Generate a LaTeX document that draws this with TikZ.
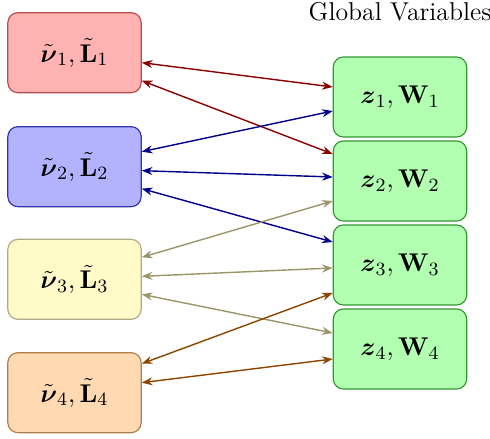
\documentclass[tikz,border=0pt]{standalone}
\usepackage{tikz}
\usepackage{amsmath}
\usepackage{amssymb}
\usepackage{xcolor}
\usetikzlibrary{arrows.meta,positioning}
\definecolor{darkred}{RGB}{140,0,0}
\definecolor{darkblue}{RGB}{0,0,140}
\definecolor{olivegray}{RGB}{155,150,105}
\definecolor{rust}{RGB}{140,70,0}
\definecolor{paleyellow}{RGB}{255,250,200}

\begin{document}
\begin{tikzpicture}[font=\fontsize{11}{13}\selectfont,
  box/.style={rounded corners=1.5mm, minimum width=2cm, minimum height=1.2cm, line width=0.5pt},
  link/.style={{Stealth[length=1.6mm]}-{Stealth[length=1.6mm]}, line width=0.6pt}]
\useasboundingbox (0,0) rectangle (7.35,6.57);
\node[box, draw=red!60!black!70, fill=red!30] (l1) at (1.1175,5.78) {$\tilde{\boldsymbol{\nu}}_1, \tilde{\mathbf{L}}_1$};
\node[box, draw=blue!60!black!80, fill=blue!30] (l2) at (1.1175,4.07) {$\tilde{\boldsymbol{\nu}}_2, \tilde{\mathbf{L}}_2$};
\node[box, draw=olivegray!80, fill=paleyellow] (l3) at (1.1175,2.38) {$\tilde{\boldsymbol{\nu}}_3, \tilde{\mathbf{L}}_3$};
\node[box, draw=rust!70, fill=orange!30] (l4) at (1.1175,0.68) {$\tilde{\boldsymbol{\nu}}_4, \tilde{\mathbf{L}}_4$};
\node[box, draw=green!50!black!80, fill=green!30] (g1) at (6.0,5.115) {$\boldsymbol{z}_1, \mathbf{W}_1$};
\node[box, draw=green!50!black!80, fill=green!30] (g2) at (6.0,3.855) {$\boldsymbol{z}_2, \mathbf{W}_2$};
\node[box, draw=green!50!black!80, fill=green!30] (g3) at (6.0,2.595) {$\boldsymbol{z}_3, \mathbf{W}_3$};
\node[box, draw=green!50!black!80, fill=green!30] (g4) at (6.0,1.335) {$\boldsymbol{z}_4, \mathbf{W}_4$};
\node (title) at (6.0,6.4) {Global Variables};
% local to global links
\draw[link, darkred] ([yshift=-0.15cm]l1.east) -- ([yshift=0.15cm]g1.west);
\draw[link, darkred] ([yshift=-0.42cm]l1.east) -- ([yshift=0.405cm]g2.west);
\draw[link, darkblue] ([yshift=0.225cm]l2.east) -- ([yshift=-0.21cm]g1.west);
\draw[link, darkblue] ([yshift=-0.06cm]l2.east) -- ([yshift=0.06cm]g2.west);
\draw[link, darkblue] ([yshift=-0.33cm]l2.east) -- ([yshift=0.345cm]g3.west);
\draw[link, olivegray] ([yshift=0.33cm]l3.east) -- ([yshift=-0.30cm]g2.west);
\draw[link, olivegray] ([yshift=0.045cm]l3.east) -- ([yshift=-0.045cm]g3.west);
\draw[link, olivegray] ([yshift=-0.225cm]l3.east) -- ([yshift=0.24cm]g4.west);
\draw[link, rust] ([yshift=0.435cm]l4.east) -- ([yshift=-0.42cm]g3.west);
\draw[link, rust] ([yshift=0.15cm]l4.east) -- ([yshift=-0.15cm]g4.west);
\end{tikzpicture}
\end{document}
